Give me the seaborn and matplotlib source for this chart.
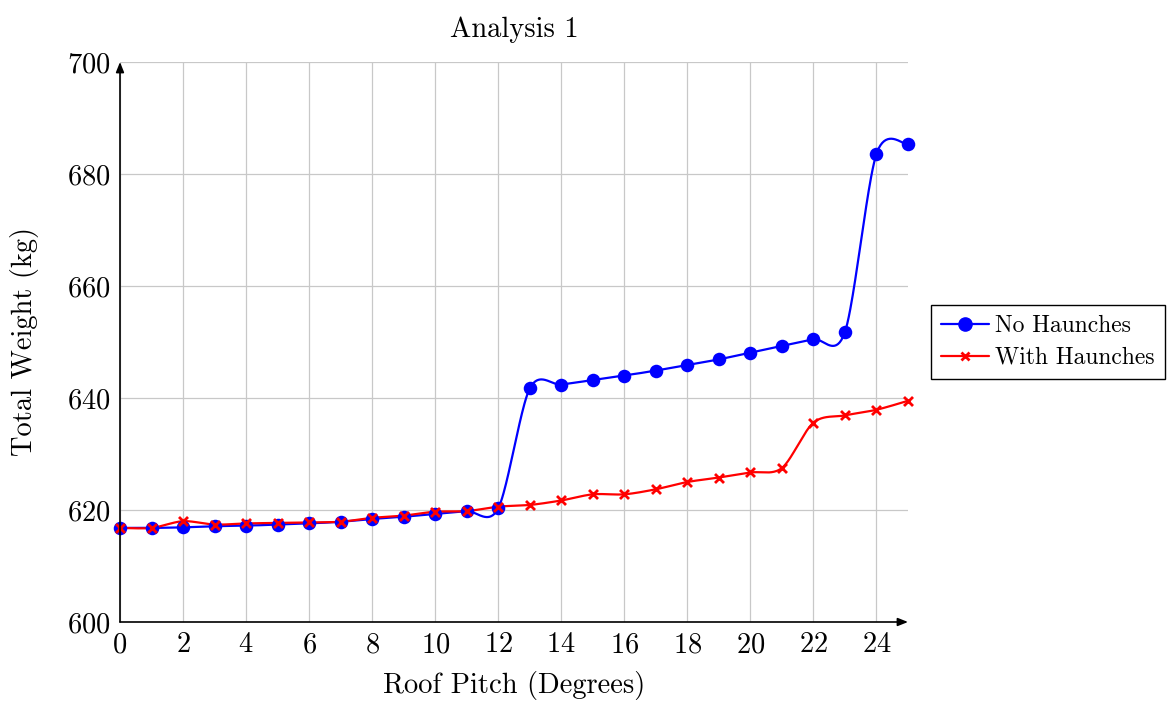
import numpy as np
import pandas as pd
import matplotlib
matplotlib.use("Agg")
import matplotlib.pyplot as plt
import seaborn as sns
from matplotlib.lines import Line2D

# Roof pitch (degrees) and total frame weight (kg) for both designs
pitch = list(range(26))
no_haunches = [616.8, 616.8, 616.9, 617.1, 617.2, 617.4, 617.6, 617.9, 618.4, 618.8,
               619.3, 619.8, 620.3, 641.7, 642.4, 643.2, 644.0, 644.9, 645.9, 646.9,
               648.1, 649.3, 650.5, 651.8, 683.6, 685.3]
with_haunches = [616.8, 616.8, 618.0, 617.4, 617.6, 617.7, 617.8, 617.9, 618.6, 619.0,
                 619.7, 619.8, 620.6, 620.9, 621.7, 622.8, 622.8, 623.7, 625.0, 625.8,
                 626.7, 627.5, 635.6, 636.9, 637.9, 639.5]
series_names = ["No Haunches", "With Haunches"]
x_ticks = list(range(0, 25, 2))
y_ticks = list(range(600, 701, 20))

BLUE = "#0000ff"
RED = "#ff0000"


def smooth_curve(x, y, factor=0.15, n=40):
    """Cubic Bezier spline through the points (TikZ 'smooth' style)."""
    p = np.column_stack([np.asarray(x, float), np.asarray(y, float)])
    m = len(p)
    tang = np.empty_like(p)
    tang[1:-1] = p[2:] - p[:-2]
    tang[0] = p[1] - p[0]
    tang[-1] = p[-1] - p[-2]
    t = np.linspace(0, 1, n)[:, None]
    out = []
    for i in range(m - 1):
        a, d = p[i], p[i + 1]
        b = a + factor * tang[i]
        c = d - factor * tang[i + 1]
        seg = ((1 - t) ** 3) * a + 3 * ((1 - t) ** 2) * t * b + 3 * (1 - t) * t ** 2 * c + t ** 3 * d
        out.append(seg if i == 0 else seg[1:])
    out = np.vstack(out)
    return out[:, 0], out[:, 1]


sns.set_theme(style="white")
plt.rcParams["font.family"] = ["cmr10", "DejaVu Serif"]
plt.rcParams["axes.formatter.use_mathtext"] = True
plt.rcParams["mathtext.fontset"] = "cm"
plt.rcParams["text.color"] = "black"
plt.rcParams["axes.labelcolor"] = "black"
plt.rcParams["xtick.labelcolor"] = "black"
plt.rcParams["ytick.labelcolor"] = "black"

fig = plt.figure(figsize=(11.73, 7.11), dpi=100)
ax = fig.add_axes([120 / 1173, (711 - 622) / 711, 788 / 1173, 560 / 711])

df = pd.DataFrame({"pitch": pitch, series_names[0]: no_haunches, series_names[1]: with_haunches})

for name, color in zip(series_names, [BLUE, RED]):
    cx, cy = smooth_curve(df["pitch"], df[name])
    sns.lineplot(x=cx, y=cy, ax=ax, color=color, lw=1.6, sort=False, estimator=None,
                 zorder=3, legend=False)

sns.scatterplot(data=df, x="pitch", y=series_names[0], ax=ax, color=BLUE, marker="o",
                s=95, edgecolor=BLUE, linewidth=0, zorder=4, legend=False, clip_on=False)
sns.scatterplot(data=df, x="pitch", y=series_names[1], ax=ax, color=RED, marker="x",
                s=42, linewidth=2.0, zorder=5, legend=False, clip_on=False)

ax.set_xlim(0, 25)
ax.set_ylim(600, 700)
ax.set_xticks(x_ticks)
ax.set_yticks(y_ticks)
ax.grid(True, color="#c8c8c8", lw=0.9, zorder=0)
ax.set_axisbelow(True)

for side in ["top", "right", "left", "bottom"]:
    ax.spines[side].set_visible(False)

# axis lines with arrow heads
arrow = dict(arrowstyle="-|>,head_length=0.5,head_width=0.2", color="black", lw=1.2,
             shrinkA=0, shrinkB=0)
ax.annotate("", xy=(1.0, 0), xytext=(0, 0), xycoords="axes fraction",
            arrowprops=arrow, annotation_clip=False, zorder=6)
ax.annotate("", xy=(0, 1.0), xytext=(0, 0), xycoords="axes fraction",
            arrowprops=arrow, annotation_clip=False, zorder=6)

ax.tick_params(axis="both", which="major", direction="inout", length=6, width=0.9,
               color="#9a9a9a", labelsize=20.5, pad=4)
ax.set_xlabel("Roof Pitch (Degrees)", fontsize=20.5, labelpad=9)
ax.set_ylabel("Total Weight (kg)", fontsize=20.5, labelpad=20)
ax.set_title("Analysis 1", fontsize=20.5, pad=18)

handles = [
    Line2D([0], [0], color=BLUE, lw=1.6, marker="o", markersize=9.5),
    Line2D([0], [0], color=RED, lw=1.6, marker="x", markersize=6, markeredgewidth=2),
]
leg = ax.legend(handles, series_names, loc="center left", bbox_to_anchor=(1.029, 0.5),
                fontsize=17, frameon=True, fancybox=False, framealpha=1,
                edgecolor="black", handlelength=2.0, borderpad=0.45, labelspacing=0.4,
                handletextpad=0.25, borderaxespad=0)
leg.get_frame().set_linewidth(1.0)

fig.savefig("out.png", dpi=100)
